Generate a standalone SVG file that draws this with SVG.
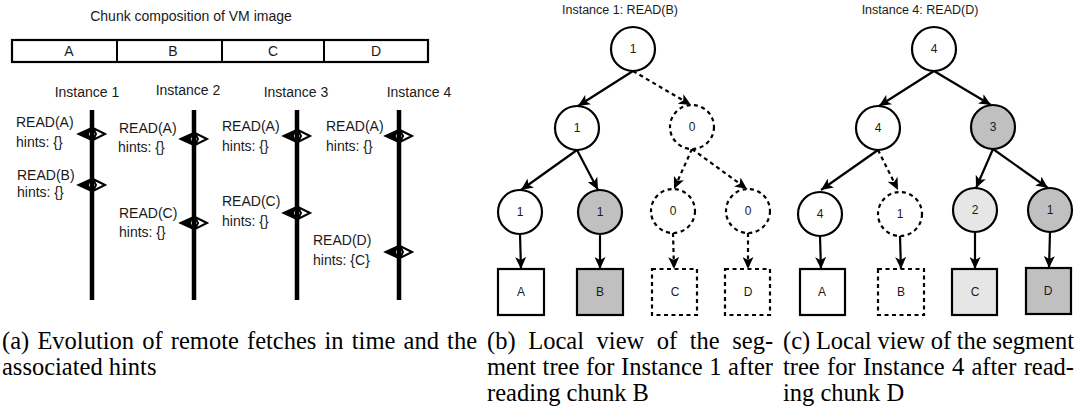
<svg xmlns="http://www.w3.org/2000/svg" xmlns:xlink="http://www.w3.org/1999/xlink" width="1076" height="413" viewBox="0 0 1076 413">
<style>
.s{font-family:"Liberation Sans",Arial,sans-serif;font-size:14px;fill:#1a1a1a}
.t{font-family:"Liberation Sans",Arial,sans-serif;font-size:12.5px;fill:#1a1a1a}
.n{font-family:"Liberation Sans",Arial,sans-serif;font-size:12px;fill:#1a1a1a;text-anchor:middle}
.cap{font-family:"Liberation Serif","Times New Roman",serif;font-size:24.5px;fill:#000}
.c{stroke:#000;stroke-width:2.2;fill:#fff}
.d{stroke-dasharray:4 3.5}
.g{fill:#c0c0c0}
.lg{fill:#e6e6e6}
.e{stroke:#000;stroke-width:2.2;fill:none;marker-end:url(#ah)}
.tl{stroke:#000;stroke-width:4.5}
</style>
<defs>
<marker id="ah" viewBox="0 0 12 11" refX="12" refY="5.5" markerWidth="12" markerHeight="11" markerUnits="userSpaceOnUse" orient="auto">
<path d="M0,0 L12,5.5 L0,11 L3,5.5 z" fill="#000"/>
</marker>
<g id="mk">
<polygon points="-14,0 -1,-6 -4,0 -1,6" fill="#000" stroke="#000" stroke-width="1.5"/>
<polygon points="13,0 1,-6 4,0 1,6" fill="#fff" stroke="#000" stroke-width="2"/>
</g>
</defs>

<g id="panel-a">
<text class="s" x="191" y="21" text-anchor="middle">Chunk composition of VM image</text>
<g id="chunk-bar">
<rect x="12" y="40" width="416" height="22" fill="#fff" stroke="#000" stroke-width="2.2"/>
<line x1="117" y1="40" x2="117" y2="62" stroke="#000" stroke-width="2"/>
<line x1="222" y1="40" x2="222" y2="62" stroke="#000" stroke-width="2"/>
<line x1="324" y1="40" x2="324" y2="62" stroke="#000" stroke-width="2"/>
<text class="s" x="69" y="56" text-anchor="middle">A</text>
<text class="s" x="173" y="56" text-anchor="middle">B</text>
<text class="s" x="273" y="56" text-anchor="middle">C</text>
<text class="s" x="376" y="56" text-anchor="middle">D</text>
</g>
<text class="s" x="87" y="97" text-anchor="middle">Instance 1</text>
<text class="s" x="188" y="95" text-anchor="middle">Instance 2</text>
<text class="s" x="296" y="97" text-anchor="middle">Instance 3</text>
<text class="s" x="419" y="97" text-anchor="middle">Instance 4</text>

<g id="timeline-1">
<use xlink:href="#mk" x="92" y="134"/>
<use xlink:href="#mk" x="92" y="185"/>
<line class="tl" x1="92" y1="110" x2="92" y2="300"/>
<text class="s" x="16" y="127">READ(A)</text>
<text class="s" x="16" y="147">hints: {}</text>
<text class="s" x="17" y="180">READ(B)</text>
<text class="s" x="17" y="197">hints: {}</text>
</g>
<g id="timeline-2">
<use xlink:href="#mk" x="194" y="139"/>
<use xlink:href="#mk" x="194" y="223"/>
<line class="tl" x1="194" y1="110" x2="194" y2="300"/>
<text class="s" x="119" y="133">READ(A)</text>
<text class="s" x="118" y="152">hints: {}</text>
<text class="s" x="119" y="218">READ(C)</text>
<text class="s" x="119" y="237">hints: {}</text>
</g>
<g id="timeline-3">
<use xlink:href="#mk" x="297" y="136"/>
<use xlink:href="#mk" x="297" y="213"/>
<line class="tl" x1="297" y1="110" x2="297" y2="300"/>
<text class="s" x="222" y="131">READ(A)</text>
<text class="s" x="222" y="151">hints: {}</text>
<text class="s" x="222" y="206">READ(C)</text>
<text class="s" x="222" y="226">hints: {}</text>
</g>
<g id="timeline-4">
<use xlink:href="#mk" x="399" y="136"/>
<use xlink:href="#mk" x="399" y="252"/>
<line class="tl" x1="399" y1="110" x2="399" y2="300"/>
<text class="s" x="326" y="131">READ(A)</text>
<text class="s" x="326" y="151">hints: {}</text>
<text class="s" x="313" y="245">READ(D)</text>
<text class="s" x="313" y="265">hints: {C}</text>
</g>
</g>

<g id="panel-b">
<text class="t" x="620" y="14" text-anchor="middle">Instance 1: READ(B)</text>
<g id="connectors-b">
<line class="e" x1="633" y1="71" x2="578" y2="106"/>
<line class="e d" x1="633" y1="71" x2="691" y2="105"/>
<line class="e" x1="577" y1="150" x2="521" y2="190"/>
<line class="e" x1="577" y1="150" x2="598" y2="190"/>
<line class="e d" x1="692" y1="149" x2="674" y2="189"/>
<line class="e d" x1="692" y1="149" x2="747" y2="189"/>
<line class="e" x1="520" y1="234" x2="521" y2="269"/>
<line class="e" x1="600" y1="234" x2="600" y2="269"/>
<line class="e d" x1="673" y1="233" x2="674" y2="269"/>
<line class="e d" x1="748" y1="233" x2="748" y2="269"/>
</g>
<g id="b-root"><circle class="c" cx="633" cy="49" r="22"/><text class="n" x="633" y="53">1</text></g>
<g id="b-l"><circle class="c" cx="577" cy="128" r="22"/><text class="n" x="577" y="132">1</text></g>
<g id="b-r"><circle class="c d" cx="692" cy="127" r="22"/><text class="n" x="692" y="131">0</text></g>
<g id="b-ll"><circle class="c" cx="520" cy="212" r="22"/><text class="n" x="520" y="216">1</text></g>
<g id="b-lr"><circle class="c g" cx="600" cy="212" r="22"/><text class="n" x="600" y="216">1</text></g>
<g id="b-rl"><circle class="c d" cx="673" cy="211" r="22"/><text class="n" x="673" y="215">0</text></g>
<g id="b-rr"><circle class="c d" cx="748" cy="211" r="22"/><text class="n" x="748" y="215">0</text></g>
<g id="b-A"><rect class="c" x="498" y="269" width="46" height="46"/><text class="n" x="521" y="296">A</text></g>
<g id="b-B"><rect class="c g" x="577" y="269" width="46" height="46"/><text class="n" x="600" y="296">B</text></g>
<g id="b-C"><rect class="c d" x="652" y="269" width="45" height="46"/><text class="n" x="675" y="296">C</text></g>
<g id="b-D"><rect class="c d" x="725" y="269" width="45" height="46"/><text class="n" x="748" y="296">D</text></g>
</g>

<g id="panel-c">
<text class="t" x="920" y="14" text-anchor="middle">Instance 4: READ(D)</text>
<g id="connectors-c">
<line class="e" x1="934" y1="71" x2="879" y2="106"/>
<line class="e" x1="934" y1="71" x2="991" y2="105"/>
<line class="e" x1="878" y1="150" x2="821" y2="190"/>
<line class="e d" x1="878" y1="150" x2="898" y2="190"/>
<line class="e" x1="993" y1="149" x2="976" y2="188"/>
<line class="e" x1="993" y1="149" x2="1048" y2="188"/>
<line class="e" x1="820" y1="236" x2="821" y2="269"/>
<line class="e" x1="900" y1="236" x2="901" y2="269"/>
<line class="e" x1="975" y1="232" x2="975" y2="269"/>
<line class="e" x1="1050" y1="232" x2="1049" y2="268"/>
</g>
<g id="c-root"><circle class="c" cx="934" cy="49" r="22"/><text class="n" x="934" y="53">4</text></g>
<g id="c-l"><circle class="c" cx="878" cy="128" r="22"/><text class="n" x="878" y="132">4</text></g>
<g id="c-r"><circle class="c g" cx="993" cy="127" r="22"/><text class="n" x="993" y="131">3</text></g>
<g id="c-ll"><circle class="c" cx="820" cy="214" r="22"/><text class="n" x="820" y="218">4</text></g>
<g id="c-lr"><circle class="c d" cx="900" cy="214" r="22"/><text class="n" x="900" y="218">1</text></g>
<g id="c-rl"><circle class="c lg" cx="975" cy="210" r="22"/><text class="n" x="975" y="214">2</text></g>
<g id="c-rr"><circle class="c g" cx="1050" cy="210" r="22"/><text class="n" x="1050" y="214">1</text></g>
<g id="c-A"><rect class="c" x="800" y="269" width="45" height="46"/><text class="n" x="822" y="296">A</text></g>
<g id="c-B"><rect class="c d" x="878" y="269" width="46" height="46"/><text class="n" x="901" y="296">B</text></g>
<g id="c-C"><rect class="c lg" x="952" y="269" width="45" height="46"/><text class="n" x="975" y="296">C</text></g>
<g id="c-D"><rect class="c g" x="1026" y="268" width="45" height="46"/><text class="n" x="1048" y="295">D</text></g>
</g>

<g id="captions">
<text class="cap" y="349"><tspan x="2">(a)</tspan><tspan x="37.4">Evolution</tspan><tspan x="142.2">of</tspan><tspan x="170.8">remote</tspan><tspan x="247">fetches</tspan><tspan x="324.5">in</tspan><tspan x="351.8">time</tspan><tspan x="403.6">and</tspan><tspan x="447.1">the</tspan></text>
<text class="cap" x="2" y="375">associated hints</text>
<text class="cap" y="349"><tspan x="487">(b)</tspan><tspan x="528.2">Local</tspan><tspan x="596.6">view</tspan><tspan x="656.8">of</tspan><tspan x="689.8">the</tspan><tspan x="732.3">seg-</tspan></text>
<text class="cap" y="375"><tspan x="487">ment</tspan><tspan x="542.6">tree</tspan><tspan x="585.9">for</tspan><tspan x="621.1">Instance</tspan><tspan x="709.3">1</tspan><tspan x="728.1">after</tspan></text>
<text class="cap" x="487" y="401">reading chunk B</text>
<text class="cap" y="349"><tspan x="783">(c)</tspan><tspan x="815.9">Local</tspan><tspan x="877.4">view</tspan><tspan x="930.7">of</tspan><tspan x="956.8">the</tspan><tspan x="992.4">segment</tspan></text>
<text class="cap" y="375"><tspan x="783">tree</tspan><tspan x="827">for</tspan><tspan x="862.9">Instance</tspan><tspan x="951.9">4</tspan><tspan x="971.5">after</tspan><tspan x="1023.7">read-</tspan></text>
<text class="cap" x="783" y="401">ing chunk D</text>
</g>
</svg>
